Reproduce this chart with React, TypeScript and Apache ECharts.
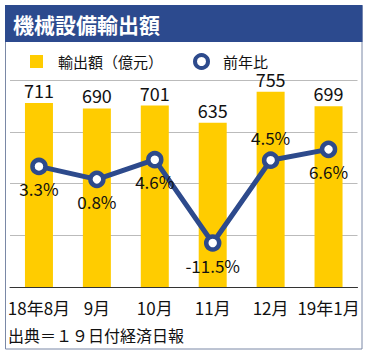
import React, { useEffect, useRef } from "react";
import * as echarts from "echarts";

const categories = ["18年8月", "9月", "10月", "11月", "12月", "19年1月"];
const exportValues = [711, 690, 701, 635, 755, 699];
const yoyValues = [3.3, 0.8, 4.6, -11.5, 4.5, 6.6];
const barName = "輸出額（億元）";
const lineName = "前年比";
const titleText = "機械設備輸出額";
const sourceText = "出典＝１９日付経済日報";
const labelAboveIdx = [4];

const FONT = '"Noto Sans CJK JP", "Noto Sans", sans-serif';
const NAVY = "#2D4A8C";
const GOLD = "#FFCC00";

export default function App() {
  const ref = useRef<HTMLDivElement>(null);
  useEffect(() => {
    if (!ref.current) return;
    const chart = echarts.init(ref.current, undefined, { renderer: "svg" });
    chart.setOption({
      animation: false,
      backgroundColor: "#ffffff",
      textStyle: { fontFamily: FONT },
      graphic: [
        {
          type: "rect",
          shape: { x: 5.5, y: 5.5, width: 356.5, height: 343.5 },
          style: { fill: "none", stroke: "#7A88A6", lineWidth: 1 },
          z: 0,
        },
        {
          type: "rect",
          shape: { x: 5, y: 5, width: 357.5, height: 37 },
          style: { fill: "#2C4A8E" },
          z: 1,
        },
        {
          type: "text",
          x: 13,
          y: 24,
          style: {
            text: titleText,
            fill: "#ffffff",
            font: `bold 21px ${FONT}`,
            textVerticalAlign: "middle",
          },
          z: 2,
        },
        {
          type: "text",
          x: 8,
          y: 335,
          style: {
            text: sourceText,
            fill: "#111111",
            font: `16px ${FONT}`,
            textVerticalAlign: "middle",
          },
          z: 2,
        },
      ],
      legend: {
        left: 25,
        top: 48,
        itemWidth: 13,
        itemHeight: 13,
        itemGap: 30,
        textStyle: { fontSize: 15, color: "#111", padding: [0, 0, 0, 10], fontFamily: FONT },
        data: [
          { name: barName, icon: "rect", itemStyle: { color: GOLD } },
          {
            name: lineName,
            icon: "circle",
            itemStyle: { color: "#ffffff", borderColor: NAVY, borderWidth: 4 },
          },
        ],
      },
      grid: { left: 10, right: 11.5, top: 80, bottom: 70, containLabel: false },
      xAxis: {
        type: "category",
        data: categories,
        axisLine: { lineStyle: { color: "#333333", width: 1 } },
        axisTick: { show: false },
        axisLabel: { fontSize: 17, color: "#111", margin: 12, fontFamily: FONT, interval: 0 },
      },
      yAxis: [
        {
          type: "value",
          min: 0,
          max: 800,
          interval: 200,
          axisLabel: { show: false },
          axisLine: { show: false },
          axisTick: { show: false },
          splitLine: { show: true, lineStyle: { color: "#BBBBBB", width: 1 } },
        },
        {
          type: "value",
          min: -20,
          max: 20,
          interval: 10,
          axisLabel: { show: false },
          axisLine: { show: false },
          axisTick: { show: false },
          splitLine: { show: false },
        },
      ],
      series: [
        {
          name: barName,
          type: "bar",
          data: exportValues,
          barWidth: 28,
          itemStyle: { color: GOLD },
          label: {
            show: true,
            position: "top",
            distance: 4,
            fontSize: 18,
            color: "#111",
            fontFamily: FONT,
          },
          z: 2,
        },
        {
          name: lineName,
          type: "line",
          yAxisIndex: 1,
          data: yoyValues.map((v, i) => ({
            value: v,
            label: { position: labelAboveIdx.includes(i) ? "top" : "bottom" },
          })),
          symbol: "circle",
          symbolSize: 13,
          lineStyle: { color: NAVY, width: 5 },
          itemStyle: { color: "#ffffff", borderColor: NAVY, borderWidth: 4.5 },
          label: {
            show: true,
            distance: 5,
            fontSize: 17,
            color: "#111",
            fontFamily: FONT,
            formatter: (p: any) => `${p.value}%`,
          },
          z: 3,
        },
      ],
    });
    return () => chart.dispose();
  }, []);
  return (
    <div
      ref={ref}
      style={{ position: "fixed", left: 0, top: 0, width: 369, height: 357 }}
    />
  );
}
